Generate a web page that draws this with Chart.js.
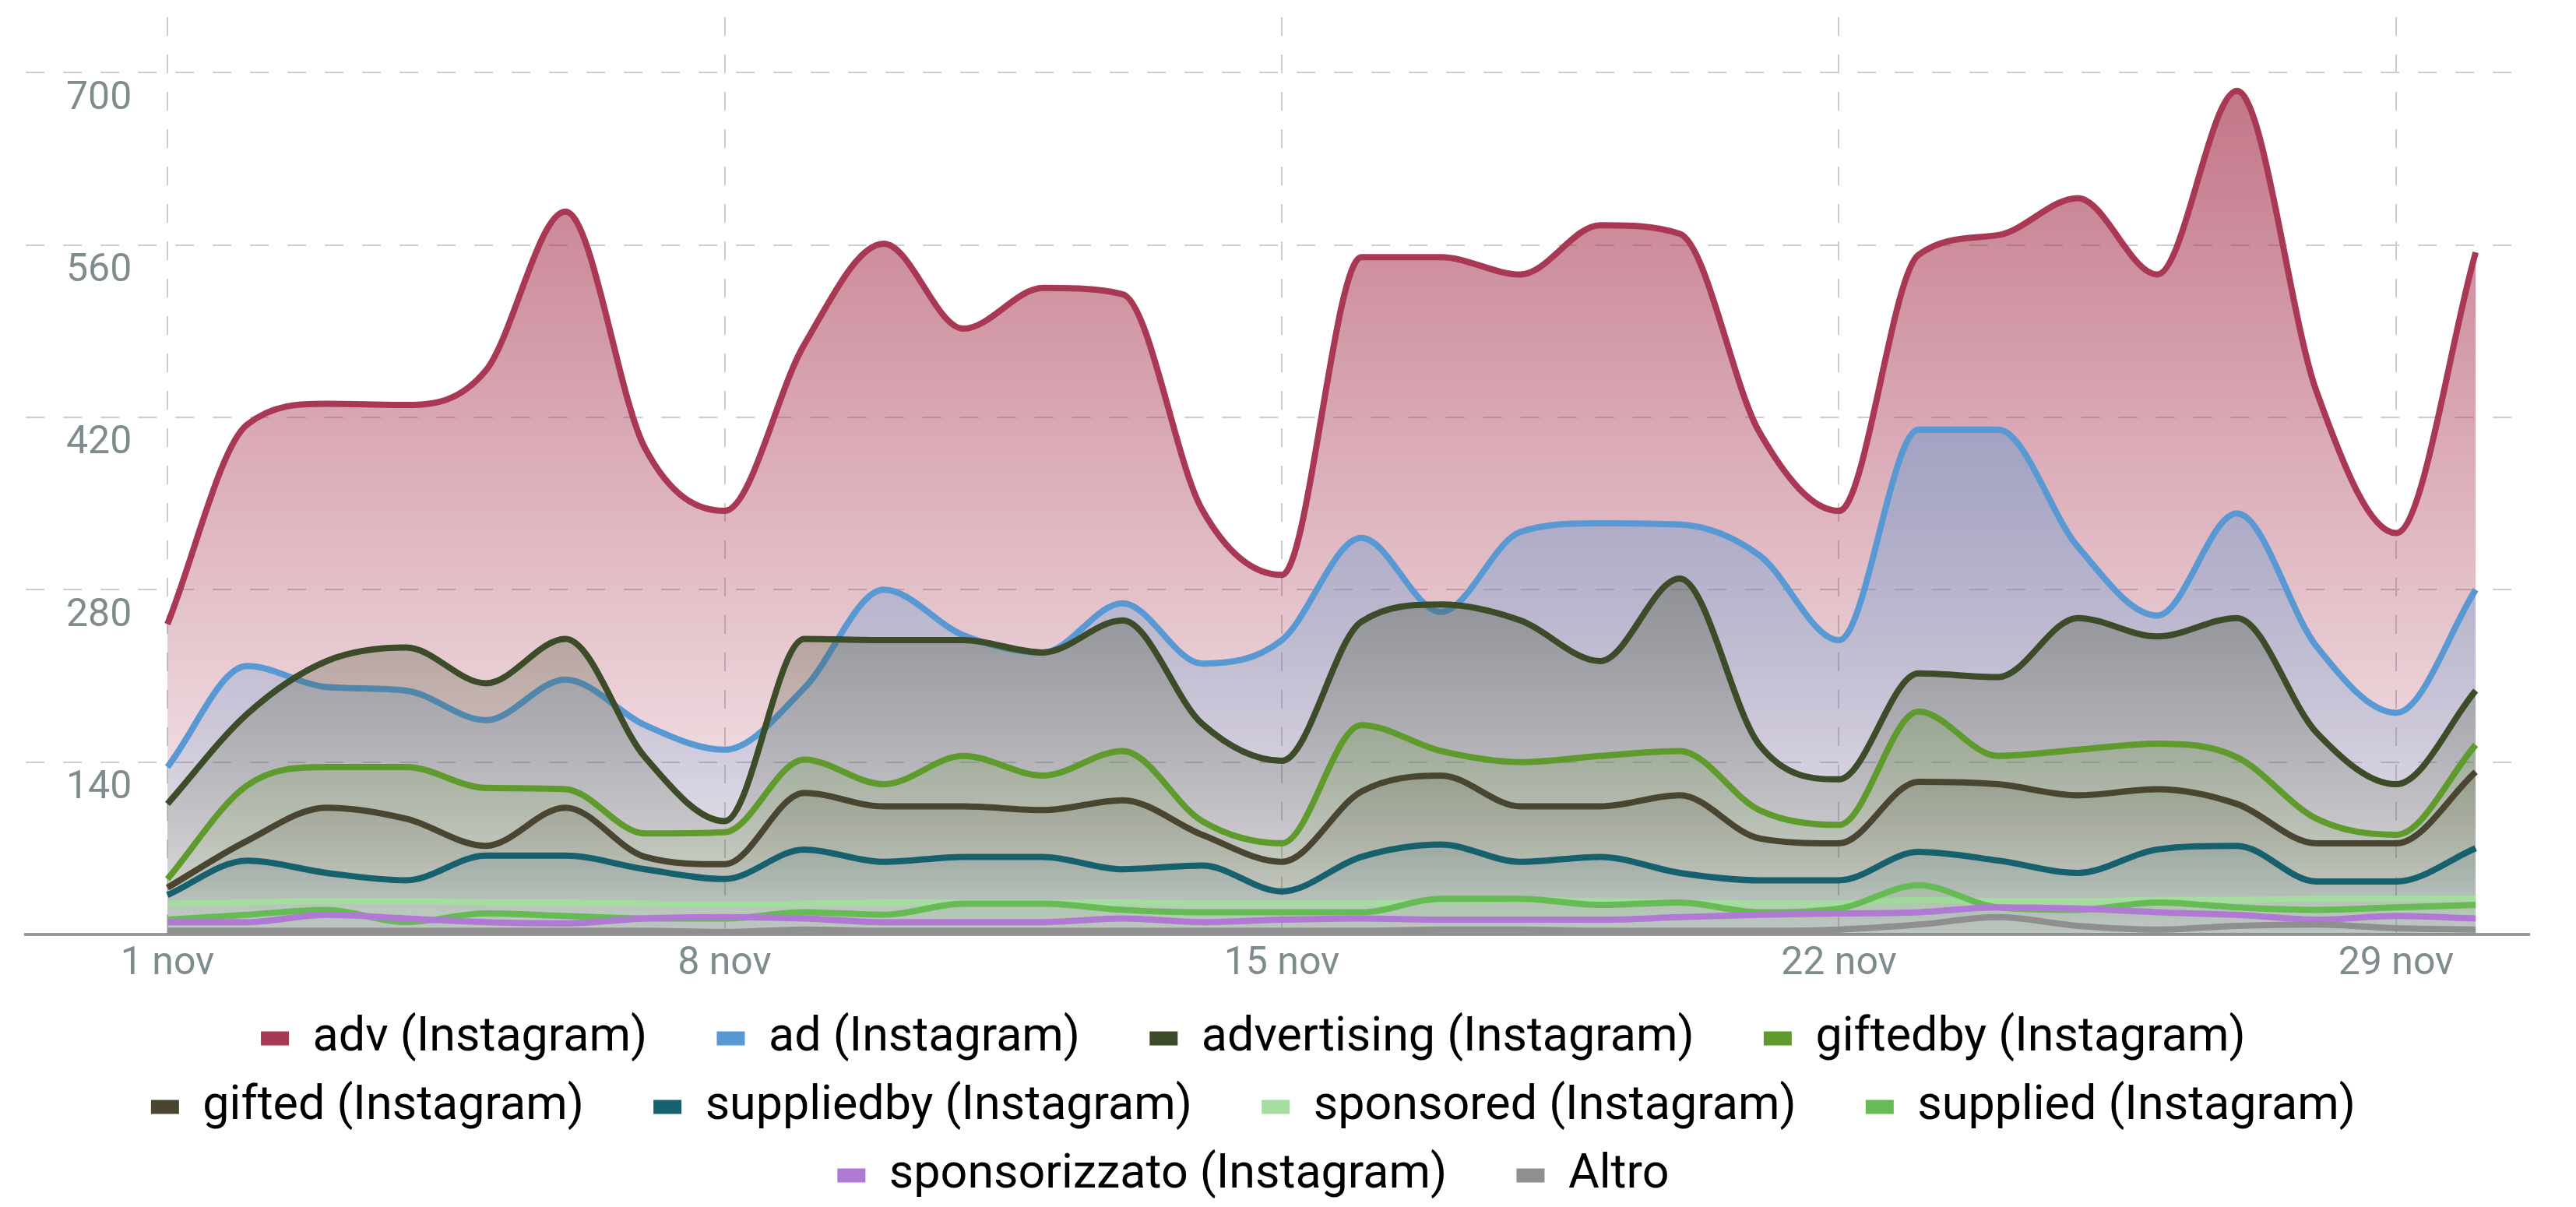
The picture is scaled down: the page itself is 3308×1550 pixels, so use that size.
<!DOCTYPE html>
<html>
<head>
<meta charset="utf-8">
<script src="https://cdn.jsdelivr.net/npm/chart.js@4.4.1/dist/chart.umd.min.js"></script>
<style>
  html, body { margin: 0; padding: 0; background: #ffffff; }
</style>
</head>
<body>
<canvas id="chart" width="3308" height="1550"></canvas>
<script>
// days of November shown on the x axis
var days = [1, 2, 3, 4, 5, 6, 7, 8, 9, 10, 11, 12, 13, 14, 15, 16, 17, 18, 19, 20, 21, 22, 23, 24, 25, 26, 27, 28, 29, 30];
var xTickDays = [1, 8, 15, 22, 29];
var xTickLabels = ["1 nov", "8 nov", "15 nov", "22 nov", "29 nov"];
var yTickValues = [140, 280, 420, 560, 700];

var seriesNames = ["adv (Instagram)", "ad (Instagram)", "advertising (Instagram)", "giftedby (Instagram)",
    "gifted (Instagram)", "suppliedby (Instagram)", "sponsored (Instagram)", "supplied (Instagram)",
    "sponsorizzato (Instagram)", "Altro"];

var adv = [252, 414, 431, 430, 458, 587, 395, 344, 479, 561, 492, 525, 520, 345, 292, 550, 550, 536, 576, 569, 408, 344, 552, 568, 598, 536, 685, 441, 326, 554];
var ad = [136, 218, 201, 198, 174, 207, 170, 150, 200, 280, 243, 229, 269, 220, 239, 322, 262, 327, 334, 333, 308, 239, 410, 410, 315, 259, 342, 234, 180, 280];
var advertising = [106, 179, 222, 233, 204, 240, 144, 92, 240, 239, 239, 229, 255, 171, 141, 254, 268, 255, 222, 289, 154, 126, 212, 209, 257, 242, 257, 164, 122, 198];
var giftedby = [45, 121, 136, 136, 119, 118, 82, 83, 142, 122, 145, 129, 149, 92, 74, 170, 149, 140, 145, 149, 101, 89, 181, 145, 150, 155, 144, 94, 81, 154];
var gifted = [38, 76, 103, 94, 72, 103, 63, 57, 115, 104, 104, 101, 109, 81, 59, 116, 129, 104, 104, 113, 78, 74, 124, 122, 113, 118, 106, 74, 74, 132];
var suppliedby = [32, 60, 50, 44, 64, 64, 53, 45, 69, 59, 63, 63, 53, 56, 35, 63, 73, 59, 63, 50, 44, 44, 67, 60, 50, 69, 72, 43, 43, 70];
var sponsored = [25, 26, 27, 27, 26, 26, 25, 24, 25, 26, 26, 26, 26, 25, 25, 25, 27, 28, 27, 26, 25, 25, 28, 27, 27, 28, 28, 29, 29, 29];
var supplied = [12, 16, 20, 10, 17, 15, 13, 13, 18, 16, 25, 25, 20, 18, 18, 18, 29, 29, 24, 26, 18, 21, 40, 22, 20, 26, 22, 20, 22, 24];
var sponsorizzato = [10, 10, 16, 13, 10, 9, 13, 14, 13, 10, 10, 10, 13, 10, 12, 13, 12, 12, 12, 14, 16, 17, 18, 22, 21, 18, 16, 12, 15, 13];
var altro = [3, 3, 3, 3, 3, 3, 3, 2, 4, 3, 3, 3, 3, 3, 3, 3, 4, 4, 3, 3, 3, 4, 8, 14, 7, 4, 7, 8, 5, 4];

var seriesValues = [adv, ad, advertising, giftedby, gifted, suppliedby, sponsored, supplied, sponsorizzato, altro];
var seriesColors = ["#a83853", "#5899d4", "#3c4b28", "#5f9a2c", "#4a4530", "#17606e", "#a5dca0", "#66bb55", "#b07ad4", "#8f8f8f"];

function rgba(hex, a) {
    var r = parseInt(hex.substr(1, 2), 16);
    var g = parseInt(hex.substr(3, 2), 16);
    var b = parseInt(hex.substr(5, 2), 16);
    return "rgba(" + r + "," + g + "," + b + "," + a + ")";
}

function fillGradient(color) {
    return function (context) {
        var chart = context.chart;
        var area = chart.chartArea;
        if (!area) {
            return rgba(color, 0.3);
        }
        var grad = chart.ctx.createLinearGradient(0, area.top, 0, area.bottom);
        grad.addColorStop(0, rgba(color, 0.74));
        grad.addColorStop(1, rgba(color, 0.06));
        return grad;
    };
}

var datasets = seriesNames.map(function (name, i) {
    return {
        label: name,
        data: days.map(function (d, j) { return { x: d, y: seriesValues[i][j] }; }),
        borderColor: seriesColors[i],
        backgroundColor: fillGradient(seriesColors[i]),
        borderWidth: 8,
        pointRadius: 0,
        fill: "origin",
        cubicInterpolationMode: "monotone",
        order: seriesNames.length - i
    };
});

var gridColor = "#cccccc";
var tickColor = "#7f8c8d";

var chart = new Chart(document.getElementById("chart").getContext("2d"), {
    type: "line",
    data: { datasets: datasets },
    options: {
        responsive: false,
        animation: false,
        layout: { padding: { left: 33, right: 60, top: 22, bottom: 0 } },
        font: { family: "Roboto" },
        plugins: {
            tooltip: { enabled: false },
            legend: {
                position: "bottom",
                labels: {
                    boxWidth: 36,
                    boxHeight: 18,
                    padding: 27,
                    color: "#2c3e50",
                    font: { family: "Roboto", size: 61 },
                    generateLabels: function (chart) {
                        return chart.data.datasets.map(function (ds, i) {
                            return {
                                text: ds.label + "\u2003",
                                fillStyle: seriesColors[i],
                                strokeStyle: seriesColors[i],
                                lineWidth: 0,
                                hidden: false,
                                datasetIndex: i
                            };
                        });
                    }
                }
            }
        },
        scales: {
            x: {
                type: "linear",
                bounds: "data",
                min: -0.7806,
                max: 30.673,
                afterBuildTicks: function (scale) {
                    scale.ticks = xTickDays.map(function (v) { return { value: v }; });
                },
                afterFit: function (scale) {
                    scale.paddingLeft = 0;
                    scale.paddingRight = 0;
                },
                grid: { color: gridColor, lineWidth: 2, drawTicks: false },
                border: { display: true, color: "#9b9b9b", width: 4, dash: [24, 24] },
                ticks: {
                    autoSkip: false,
                    maxRotation: 0,
                    padding: 8,
                    color: tickColor,
                    font: { family: "Roboto", size: 50 },
                    callback: function (value) {
                        return xTickLabels[xTickDays.indexOf(value)];
                    }
                }
            },
            y: {
                bounds: "data",
                min: 0,
                max: 745,
                afterBuildTicks: function (scale) {
                    scale.ticks = yTickValues.map(function (v) { return { value: v }; });
                },
                afterFit: function (scale) {
                    scale.width = 0;
                    scale.paddingTop = 0;
                    scale.paddingBottom = 0;
                },
                grid: { color: gridColor, lineWidth: 2, drawTicks: false },
                border: { display: false, dash: [24, 24] },
                ticks: {
                    mirror: true,
                    padding: 52,
                    labelOffset: 34,
                    color: tickColor,
                    font: { family: "Roboto", size: 50 },
                    callback: function (value) { return String(value); }
                }
            }
        }
    }
});
</script>
</body>
</html>
